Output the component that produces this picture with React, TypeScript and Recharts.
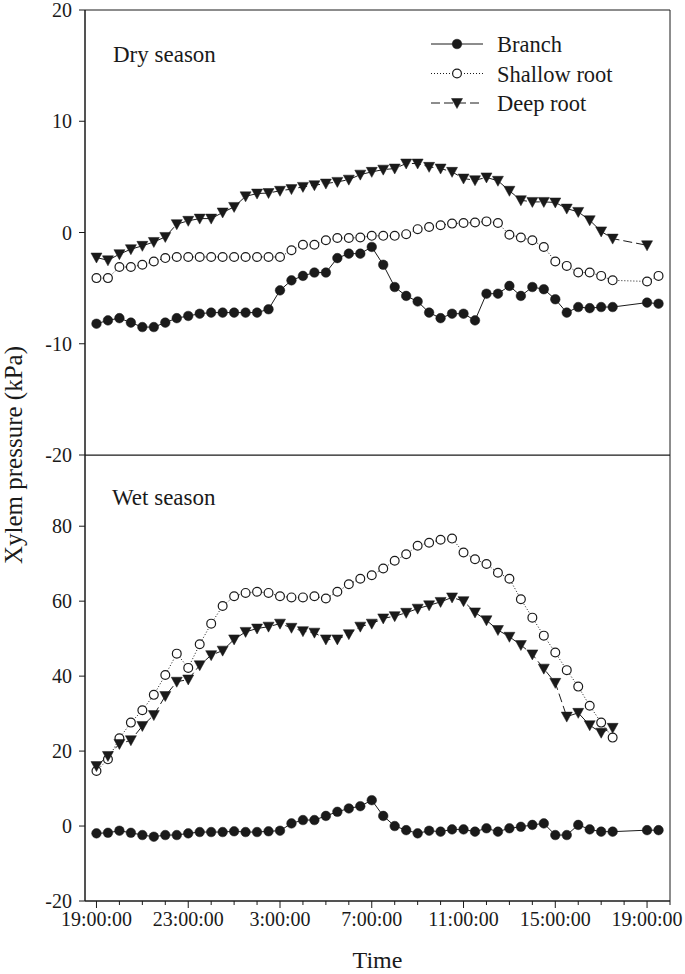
import React from 'react';
import { LineChart, Line, XAxis, YAxis, Legend, ReferenceArea } from 'recharts';

// hours since midnight of day 1 (43 = 19:00 next day)
const times = [
  19, 19.5, 20, 20.5, 21, 21.5, 22, 22.5, 23, 23.5, 24, 24.5, 25, 25.5, 26, 26.5,
  27, 27.5, 28, 28.5, 29, 29.5, 30, 30.5, 31, 31.5, 32, 32.5, 33, 33.5, 34, 34.5,
  35, 35.5, 36, 36.5, 37, 37.5, 38, 38.5, 39, 39.5, 40, 40.5, 41, 41.5, 43, 43.5,
];

const dryBranch = [
  -8.2, -7.9, -7.7, -8.1, -8.5, -8.5, -8.1, -7.7, -7.5, -7.3,
  -7.2, -7.2, -7.2, -7.2, -7.2, -6.9, -5.2, -4.3, -3.9, -3.6,
  -3.6, -2.3, -1.9, -1.9, -1.3, -2.9, -4.9, -5.7, -6.2, -7.2,
  -7.7, -7.3, -7.3, -7.9, -5.5, -5.5, -4.8, -5.7, -4.9, -5.1,
  -6.0, -7.2, -6.7, -6.8, -6.7, -6.7, -6.3, -6.4,
];
const dryShallow = [
  -4.1, -4.1, -3.1, -3.1, -2.9, -2.6, -2.3, -2.2, -2.2, -2.2,
  -2.2, -2.2, -2.2, -2.2, -2.2, -2.2, -2.2, -1.6, -1.1, -1.1,
  -0.7, -0.5, -0.5, -0.45, -0.3, -0.3, -0.3, -0.15, 0.3, 0.5,
  0.65, 0.8, 0.85, 0.9, 1.0, 0.85, -0.2, -0.45, -0.7, -1.3,
  -2.6, -3.0, -3.6, -3.6, -3.9, -4.3, -4.4, -3.9,
];
const dryDeep = [
  -2.25, -2.5, -1.95, -1.5, -1.2, -0.85, -0.4, 0.75, 1.05, 1.25,
  1.25, 1.8, 2.3, 3.25, 3.5, 3.55, 3.75, 3.9, 4.1, 4.25,
  4.4, 4.55, 4.75, 5.2, 5.45, 5.65, 5.75, 6.2, 6.2, 5.9,
  5.75, 5.45, 4.85, 4.7, 4.95, 4.65, 3.75, 2.9, 2.75, 2.75,
  2.7, 2.15, 1.85, 1.1, 0.1, -0.55, -1.15, null,
];

const wetBranch = [
  -1.95, -1.8, -1.25, -1.8, -2.4, -2.85, -2.4, -2.4, -1.95, -1.6,
  -1.6, -1.6, -1.4, -1.6, -1.6, -1.4, -1.25, 0.7, 1.6, 1.6,
  2.7, 3.8, 4.7, 5.3, 6.9, 2.7, 0, -1.1, -1.95, -1.25,
  -1.5, -0.9, -0.9, -1.5, -0.6, -1.5, -0.6, -0.2, 0.3, 0.7,
  -2.4, -2.4, 0.3, -0.9, -1.5, -1.5, -1.1, -1.1,
];
const wetShallow = [
  14.7, 17.8, 23.4, 27.6, 30.9, 35.0, 40.3, 46.0, 42.2, 48.5,
  54.0, 58.7, 61.3, 62.2, 62.5, 62.2, 61.3, 61.0, 61.0, 61.3,
  60.7, 62.5, 64.5, 66.0, 66.9, 68.7, 70.8, 72.5, 74.8, 75.6,
  76.4, 76.7, 73.0, 71.2, 69.9, 67.6, 66.0, 60.5, 55.6, 50.8,
  46.3, 41.6, 37.2, 32.1, 27.6, 23.6, null, null,
];
const wetDeep = [
  16.0, 18.7, 21.9, 22.9, 26.7, 29.6, 34.7, 38.5, 39.1, 42.9,
  45.6, 46.8, 49.8, 51.8, 52.7, 53.2, 54.0, 52.9, 52.0, 51.6,
  49.8, 49.8, 51.2, 53.2, 54.0, 55.4, 56.0, 56.9, 58.0, 58.9,
  59.8, 61.0, 60.0, 57.0, 54.9, 52.3, 50.5, 48.3, 45.8, 42.0,
  38.2, 29.2, 30.2, 26.9, 24.9, 26.2, null, null,
];

const hourTicks = [19, 20, 21, 22, 23, 24, 25, 26, 27, 28, 29, 30, 31, 32, 33, 34, 35, 36, 37, 38, 39, 40, 41, 42, 43, 44];
const majorTicks = [19, 23, 27, 31, 35, 39, 43];
const majorLabels = ['19:00:00', '23:00:00', '3:00:00', '7:00:00', '11:00:00', '15:00:00', '19:00:00'];
const dryTicks = [-20, -10, 0, 10, 20];
const wetTicks = [-20, 0, 20, 40, 60, 80];
const legendOrder = ['Branch', 'Shallow root', 'Deep root'];

const FONT = '"Liberation Serif", "Times New Roman", serif';
const INK = '#1a1a1a';
const X_DOMAIN = [18.5, 44];

const makeRows = (b, s, d) => times.map((t, i) => ({ t, branch: b[i], shallow: s[i], deep: d[i] }));
const dryRows = makeRows(dryBranch, dryShallow, dryDeep);
const wetRows = makeRows(wetBranch, wetShallow, wetDeep);

const Marker = ({ kind, cx, cy }) => {
  if (kind === 'filled') return <circle cx={cx} cy={cy} r={4.8} fill={INK} stroke={INK} strokeWidth={0.5} />;
  if (kind === 'open') return <circle cx={cx} cy={cy} r={4.4} fill="#fff" stroke={INK} strokeWidth={1.2} />;
  return (
    <polygon
      points={`${cx - 5.5},${cy - 4.5} ${cx + 5.5},${cy - 4.5} ${cx},${cy + 5.5}`}
      fill={INK}
      stroke={INK}
      strokeWidth={0.5}
    />
  );
};

const dotFor = (kind) => (props) => {
  const { cx, cy, index, value } = props;
  if (value == null || cx == null || cy == null) return <g key={`n-${kind}-${index}`} />;
  return <Marker key={`d-${kind}-${index}`} kind={kind} cx={cx} cy={cy} />;
};

const legendStyle = {
  Branch: { kind: 'filled', dash: undefined },
  'Shallow root': { kind: 'open', dash: '1 2' },
  'Deep root': { kind: 'tri', dash: '9 4' },
};

const LegendBox = ({ payload }) => {
  const items = [...(payload || [])].sort(
    (a, b) => legendOrder.indexOf(a.value) - legendOrder.indexOf(b.value),
  );
  return (
    <svg width={210} height={95}>
      {items.map((p, i) => {
        const st = legendStyle[p.value] || legendStyle.Branch;
        const y = 14 + i * 29.5;
        return (
          <g key={p.value}>
            <line x1={6} x2={58} y1={y} y2={y} stroke={INK} strokeWidth={1} strokeDasharray={st.dash} />
            <Marker kind={st.kind} cx={32} cy={y} />
            <text x={72} y={y + 8} fontFamily={FONT} fontSize={22.5} fill={INK}>
              {p.value}
            </text>
          </g>
        );
      })}
    </svg>
  );
};

const XTick = (props) => {
  const { x, y, payload } = props;
  const idx = majorTicks.indexOf(payload.value);
  return (
    <g>
      <line x1={x} x2={x} y1={y} y2={y + (idx >= 0 ? 7 : 4)} stroke={INK} strokeWidth={1} />
      {idx >= 0 && (
        <text x={x} y={y + 25} textAnchor="middle" fontFamily={FONT} fontSize={20} fill={INK}>
          {majorLabels[idx]}
        </text>
      )}
    </g>
  );
};

const yTickStyle = { fontFamily: FONT, fontSize: 20, fill: INK };

const series = () => [
  <Line key="b" name="Branch" dataKey="branch" type="linear" stroke={INK} strokeWidth={1}
    dot={dotFor('filled')} activeDot={false} isAnimationActive={false} legendType="circle" />,
  <Line key="s" name="Shallow root" dataKey="shallow" type="linear" stroke={INK} strokeWidth={1}
    strokeDasharray="1 2" dot={dotFor('open')} activeDot={false} isAnimationActive={false} legendType="circle" />,
  <Line key="d" name="Deep root" dataKey="deep" type="linear" stroke={INK} strokeWidth={1}
    strokeDasharray="9 4" dot={dotFor('tri')} activeDot={false} isAnimationActive={false} legendType="triangle" />,
];

export default function App() {
  return (
    <div style={{ position: 'absolute', left: 0, top: 0, width: 685, height: 974, background: '#fff' }}>
      <div style={{ position: 'absolute', left: 0, top: 455 }}>
        <LineChart width={685} height={519} data={wetRows} margin={{ top: 0, right: 15, bottom: 0, left: 0 }}>
          <XAxis dataKey="t" type="number" domain={X_DOMAIN} ticks={hourTicks} interval={0}
            height={73} tickSize={0} tickMargin={0} tickLine={false}
            axisLine={{ stroke: INK }} tick={<XTick />}
            label={{ value: 'Time', position: 'insideBottom', offset: 6, fontFamily: FONT, fontSize: 24, fill: INK }} />
          <YAxis type="number" domain={[-20, 99]} ticks={wetTicks} interval={0} width={85}
            tick={yTickStyle} tickSize={6} tickMargin={7}
            axisLine={{ stroke: INK }} tickLine={{ stroke: INK }} />
          <ReferenceArea x1={18.5} x2={44} y1={-20} y2={99} fill="none" stroke={INK} strokeWidth={1} ifOverflow="visible" />
          {series()}
        </LineChart>
      </div>
      <div style={{ position: 'absolute', left: 0, top: 0 }}>
        <LineChart width={685} height={475} data={dryRows} margin={{ top: 10, right: 15, bottom: 20, left: 0 }}>
          <XAxis dataKey="t" type="number" domain={X_DOMAIN} hide />
          <YAxis type="number" domain={[-20, 20]} ticks={dryTicks} interval={0} width={85}
            tick={yTickStyle} tickSize={6} tickMargin={7}
            axisLine={{ stroke: INK }} tickLine={{ stroke: INK }} />
          <ReferenceArea x1={18.5} x2={44} y1={-20} y2={20} fill="none" stroke={INK} strokeWidth={1} ifOverflow="visible" />
          {series()}
          <Legend layout="vertical" verticalAlign="middle" align="center"
            wrapperStyle={{ left: 425, top: 30, width: 210, height: 95 }}
            content={(p) => <LegendBox payload={p.payload} />} />
        </LineChart>
      </div>
      <svg width={685} height={974} style={{ position: 'absolute', left: 0, top: 0, pointerEvents: 'none' }}>
        <text x={113} y={62} fontFamily={FONT} fontSize={23} fill={INK}>Dry season</text>
        <text x={112} y={505} fontFamily={FONT} fontSize={23} fill={INK}>Wet season</text>
        <text x={22} y={455} transform="rotate(-90 22 455)" textAnchor="middle" fontFamily={FONT} fontSize={25} fill={INK}>
          Xylem pressure (kPa)
        </text>
      </svg>
    </div>
  );
}
